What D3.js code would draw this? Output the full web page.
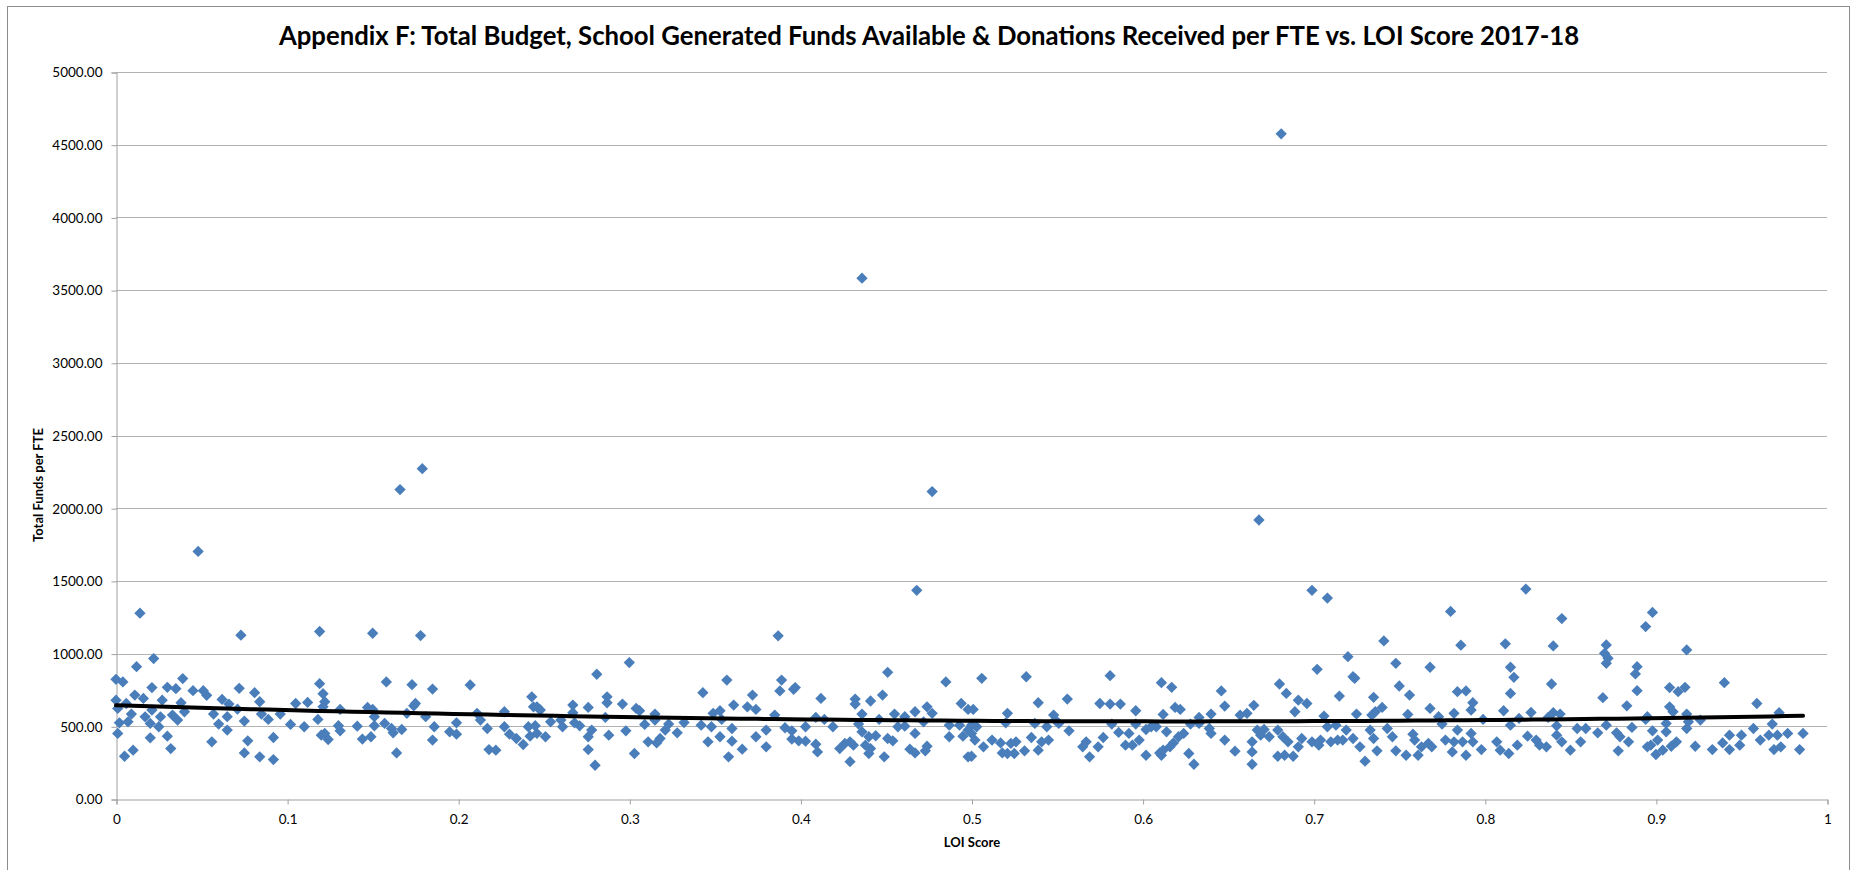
<!DOCTYPE html>
<html>
<head>
<meta charset="utf-8">
<script src="https://cdnjs.cloudflare.com/ajax/libs/d3/7.8.5/d3.min.js"></script>
<style>
  html, body { margin: 0; padding: 0; background: #fff; }
  svg { display: block; font-family: Lato, "Open Sans", sans-serif; }
</style>
</head>
<body>
<svg id="chart" width="1855" height="870"></svg>
<script>
// ---------------- DATA ----------------
const chartTitle = "Appendix F: Total Budget, School Generated Funds Available & Donations Received per FTE vs. LOI Score 2017-18";
const xAxisTitle = "LOI Score";
const yAxisTitle = "Total Funds per FTE";
const xTickValues = [0, 0.1, 0.2, 0.3, 0.4, 0.5, 0.6, 0.7, 0.8, 0.9, 1];
const yTickValues = [0, 500, 1000, 1500, 2000, 2500, 3000, 3500, 4000, 4500, 5000];
// order-2 polynomial trendline coefficients (c0 + c1*x + c2*x^2)
const trendCoefficients = [644, -355, 286];

// [LOI score, total funds per FTE]
const schoolsLoi0to25 = [
  [0.014,1278],[0.073,1127],[0.119,1152],[0.150,1140],[0.178,1124],[0.022,966],[0.012,910],[0.000,823],
  [0.004,805],[0.039,828],[0.021,766],[0.030,768],[0.035,759],[0.045,745],[0.051,745],[0.053,713],
  [0.072,761],[0.081,731],[0.084,669],[0.119,793],[0.121,724],[0.122,669],[0.121,634],[0.158,805],
  [0.173,786],[0.185,756],[0.207,784],[0.243,703],[0.244,634],[0.000,680],[0.001,623],[0.006,657],
  [0.011,715],[0.016,692],[0.009,584],[0.002,524],[0.007,531],[0.001,451],[0.017,565],[0.020,520],
  [0.020,421],[0.025,497],[0.026,565],[0.027,680],[0.021,612],[0.030,432],[0.032,347],[0.033,577],
  [0.036,543],[0.038,662],[0.040,600],[0.005,294],[0.010,336],[0.056,393],[0.057,584],[0.060,515],
  [0.062,685],[0.065,566],[0.065,474],[0.066,653],[0.071,618],[0.075,536],[0.075,317],[0.077,400],
  [0.084,290],[0.085,584],[0.089,547],[0.092,423],[0.092,271],[0.096,584],[0.102,513],[0.105,657],
  [0.110,497],[0.112,664],[0.118,547],[0.120,439],[0.122,451],[0.124,409],[0.131,616],[0.130,504],
  [0.131,469],[0.141,501],[0.144,412],[0.147,630],[0.149,428],[0.150,616],[0.151,566],[0.151,504],
  [0.157,520],[0.161,485],[0.162,455],[0.164,317],[0.167,478],[0.170,589],[0.174,641],[0.175,657],
  [0.181,566],[0.186,497],[0.185,405],[0.195,462],[0.199,524],[0.199,446],[0.211,589],[0.213,543],
  [0.217,485],[0.218,340],[0.222,336],[0.227,600],[0.227,497],[0.230,446],[0.234,416],[0.238,375],
  [0.241,497],[0.242,432],[0.245,504],[0.246,451],[0.246,634],
  [0.048,1703],[0.166,2128],[0.179,2272]
];
const schoolsLoi25to50 = [
  [0.468,1435],[0.387,1122],[0.300,938],[0.281,858],[0.451,871],[0.485,805],[0.357,818],[0.389,818],
  [0.388,743],[0.396,754],[0.397,766],[0.343,731],[0.372,715],[0.412,692],[0.432,687],[0.432,653],
  [0.441,674],[0.448,715],[0.287,703],[0.287,662],[0.296,653],[0.267,646],[0.276,630],[0.304,623],
  [0.306,607],[0.361,646],[0.369,634],[0.374,616],[0.494,657],[0.498,616],[0.474,634],[0.467,600],
  [0.477,589],[0.248,612],[0.254,531],[0.260,543],[0.261,497],[0.251,428],[0.267,593],[0.268,524],
  [0.271,503],[0.286,561],[0.278,474],[0.276,428],[0.276,340],[0.280,232],[0.288,439],[0.298,469],
  [0.303,313],[0.309,513],[0.311,393],[0.315,584],[0.315,543],[0.316,386],[0.318,416],[0.321,474],
  [0.323,515],[0.328,455],[0.332,526],[0.342,508],[0.346,393],[0.348,497],[0.349,589],[0.353,607],
  [0.354,547],[0.353,428],[0.358,290],[0.360,485],[0.360,398],[0.366,343],[0.374,428],[0.380,474],
  [0.380,359],[0.385,577],[0.391,490],[0.395,469],[0.395,412],[0.399,400],[0.403,497],[0.403,398],
  [0.409,561],[0.409,377],[0.410,324],[0.414,547],[0.419,497],[0.423,347],[0.426,382],[0.429,393],
  [0.429,257],[0.431,370],[0.434,515],[0.436,462],[0.436,584],[0.438,370],[0.440,428],[0.440,313],
  [0.441,347],[0.444,435],[0.446,547],[0.449,290],[0.451,416],[0.454,400],[0.455,584],[0.457,497],
  [0.461,566],[0.461,501],[0.464,343],[0.467,451],[0.467,317],[0.472,531],[0.473,331],[0.474,363],
  [0.487,508],[0.487,428],[0.493,508],[0.495,432],[0.498,290],[0.498,474],
  [0.436,3582],[0.477,2114]
];
const schoolsLoi50to75 = [
  [0.699,1435],[0.708,1382],[0.741,1087],[0.720,979],[0.748,933],[0.702,892],[0.723,841],[0.724,830],
  [0.506,830],[0.532,841],[0.581,848],[0.611,800],[0.617,768],[0.680,791],[0.646,743],[0.684,726],
  [0.715,708],[0.735,699],[0.750,777],[0.691,680],[0.696,657],[0.689,600],[0.501,616],[0.539,662],
  [0.556,687],[0.575,657],[0.581,653],[0.587,653],[0.596,607],[0.619,630],[0.622,616],[0.648,639],
  [0.665,644],[0.657,577],[0.661,589],[0.706,570],[0.725,584],[0.740,630],[0.736,600],[0.734,577],
  [0.521,589],[0.520,524],[0.548,577],[0.551,520],[0.612,582],[0.633,561],[0.640,584],[0.500,508],
  [0.503,497],[0.500,451],[0.502,405],[0.507,359],[0.500,294],[0.512,405],[0.517,386],[0.518,317],
  [0.521,313],[0.523,382],[0.526,393],[0.525,313],[0.531,331],[0.535,423],[0.537,520],[0.539,336],
  [0.541,393],[0.544,497],[0.545,405],[0.549,543],[0.557,469],[0.565,359],[0.567,393],[0.569,290],
  [0.574,359],[0.577,423],[0.582,515],[0.586,458],[0.590,370],[0.592,451],[0.594,370],[0.596,515],
  [0.598,405],[0.602,478],[0.602,301],[0.605,497],[0.608,497],[0.610,317],[0.611,301],[0.612,336],
  [0.614,462],[0.616,359],[0.618,386],[0.621,428],[0.624,451],[0.627,313],[0.628,515],[0.630,239],
  [0.633,520],[0.639,485],[0.640,451],[0.648,405],[0.654,329],[0.664,393],[0.664,324],[0.664,239],
  [0.667,474],[0.669,439],[0.671,478],[0.674,428],[0.679,474],[0.679,294],[0.682,428],[0.683,301],
  [0.685,393],[0.688,294],[0.691,359],[0.693,416],[0.699,393],[0.703,370],[0.704,405],[0.708,497],
  [0.710,393],[0.713,508],[0.714,405],[0.717,405],[0.719,474],[0.723,416],[0.727,359],[0.730,260],
  [0.733,474],[0.735,416],[0.737,331],[0.743,485],[0.746,428],[0.748,331],
  [0.668,1919],[0.681,4575]
];
const schoolsLoi75to100 = [
  [0.824,1444],[0.780,1290],[0.845,1241],[0.898,1283],[0.894,1186],[0.786,1058],[0.812,1067],[0.840,1053],
  [0.871,1060],[0.870,1002],[0.872,968],[0.871,933],[0.918,1025],[0.768,906],[0.815,906],[0.817,837],
  [0.815,726],[0.889,910],[0.888,860],[0.889,745],[0.839,791],[0.940,800],[0.756,715],[0.784,738],
  [0.789,743],[0.793,662],[0.792,612],[0.768,623],[0.755,582],[0.773,566],[0.775,515],[0.782,589],
  [0.799,547],[0.811,607],[0.820,554],[0.815,508],[0.827,595],[0.837,561],[0.840,593],[0.844,584],
  [0.842,503],[0.869,697],[0.883,641],[0.895,566],[0.908,766],[0.913,738],[0.917,768],[0.908,634],
  [0.910,600],[0.918,584],[0.926,543],[0.959,657],[0.972,593],[0.968,515],[0.871,508],[0.886,492],
  [0.894,547],[0.906,520],[0.918,485],[0.919,531],[0.758,446],[0.759,405],[0.754,301],[0.761,301],
  [0.763,359],[0.767,382],[0.769,359],[0.777,405],[0.781,324],[0.784,474],[0.782,393],[0.787,393],
  [0.789,301],[0.792,451],[0.793,393],[0.798,340],[0.807,393],[0.809,336],[0.814,313],[0.819,370],
  [0.825,432],[0.830,405],[0.832,370],[0.836,359],[0.842,439],[0.845,393],[0.850,336],[0.854,485],
  [0.856,393],[0.859,485],[0.866,455],[0.877,455],[0.878,331],[0.879,428],[0.884,393],[0.895,359],
  [0.897,370],[0.898,469],[0.900,306],[0.901,405],[0.904,336],[0.906,462],[0.909,363],[0.912,393],
  [0.923,363],[0.933,340],[0.939,386],[0.943,439],[0.943,340],[0.949,370],[0.950,439],[0.957,485],
  [0.961,405],[0.966,439],[0.969,340],[0.971,439],[0.973,359],[0.977,451],[0.984,340],[0.986,451]
];

// ---------------- CHART ----------------
const points = [].concat(schoolsLoi0to25, schoolsLoi25to50, schoolsLoi50to75, schoolsLoi75to100);

const plot = { left: 116, right: 1827, top: 72, bottom: 799 };
const svg = d3.select("#chart");

// outer chart border
svg.append("rect")
  .attr("x", 7.5).attr("y", 6.5)
  .attr("width", 1842).attr("height", 870)
  .attr("fill", "#fff").attr("stroke", "#8c8c8c").attr("stroke-width", 1);

const x = d3.scaleLinear().domain([0, 1]).range([plot.left, plot.right]);
const y = d3.scaleLinear().domain([0, 5000]).range([plot.bottom, plot.top]);

// gridlines
svg.append("g")
  .selectAll("line")
  .data(yTickValues.filter(v => v > 0))
  .join("line")
  .attr("x1", plot.left).attr("x2", plot.right)
  .attr("y1", d => Math.round(y(d)) + 0.5).attr("y2", d => Math.round(y(d)) + 0.5)
  .attr("stroke", "#b3b3b3").attr("stroke-width", 1);

// y axis
const yAxis = svg.append("g")
  .attr("transform", `translate(${plot.left + 0.5},0.5)`)
  .call(d3.axisLeft(y).tickValues(yTickValues).tickFormat(d3.format(".2f")).tickSize(5).tickPadding(9));
yAxis.select(".domain").attr("stroke", "#a0a0a0");
yAxis.selectAll(".tick line").attr("stroke", "#a0a0a0");
yAxis.selectAll("text")
  .attr("font-family", "Lato, sans-serif").attr("font-size", 13.5).attr("fill", "#000");

// x axis
const xAxis = svg.append("g")
  .attr("transform", `translate(0.5,${plot.bottom + 0.5})`)
  .call(d3.axisBottom(x).tickValues(xTickValues).tickFormat(d3.format("~g")).tickSize(5).tickPadding(10));
xAxis.select(".domain").attr("stroke", "#a0a0a0");
xAxis.selectAll(".tick line").attr("stroke", "#a0a0a0");
xAxis.selectAll("text")
  .attr("font-family", "Lato, sans-serif").attr("font-size", 13.5).attr("fill", "#000");

// markers (diamonds)
const diamond = d3.symbol().type(d3.symbolSquare).size(64);
svg.append("g")
  .selectAll("path")
  .data(points)
  .join("path")
  .attr("d", diamond)
  .attr("transform", d => `translate(${x(d[0])},${y(d[1])}) rotate(45)`)
  .attr("fill", "#4A7EBB");

// polynomial (order 2) trendline over the data's LOI range
const xMin = d3.min(points, d => d[0]), xMax = d3.max(points, d => d[0]);
const c = trendCoefficients;
const trendData = d3.range(0, 101).map(i => {
  const t = xMin + (xMax - xMin) * i / 100;
  return [t, c[0] + c[1] * t + c[2] * t * t];
});
svg.append("path")
  .datum(trendData)
  .attr("d", d3.line().x(d => x(d[0])).y(d => y(d[1])))
  .attr("fill", "none").attr("stroke", "#000").attr("stroke-width", 4)
  .attr("stroke-linecap", "round");

// titles
const title = svg.append("text")
  .attr("x", 929).attr("y", 45)
  .attr("text-anchor", "middle")
  .attr("font-family", "Lato, sans-serif").attr("font-weight", "bold")
  .attr("font-size", 24).attr("fill", "#000")
  .text(chartTitle);
const tw = title.node().getComputedTextLength();
title.attr("font-size", 24 * 1301 / tw);

svg.append("text")
  .attr("transform", "translate(43,485) rotate(-90)")
  .attr("text-anchor", "middle")
  .attr("font-family", "Lato, sans-serif").attr("font-weight", "bold")
  .attr("font-size", 13).attr("fill", "#000")
  .text(yAxisTitle);

svg.append("text")
  .attr("x", 972).attr("y", 847)
  .attr("text-anchor", "middle")
  .attr("font-family", "Lato, sans-serif").attr("font-weight", "bold")
  .attr("font-size", 13).attr("fill", "#000")
  .text(xAxisTitle);
</script>
</body>
</html>
